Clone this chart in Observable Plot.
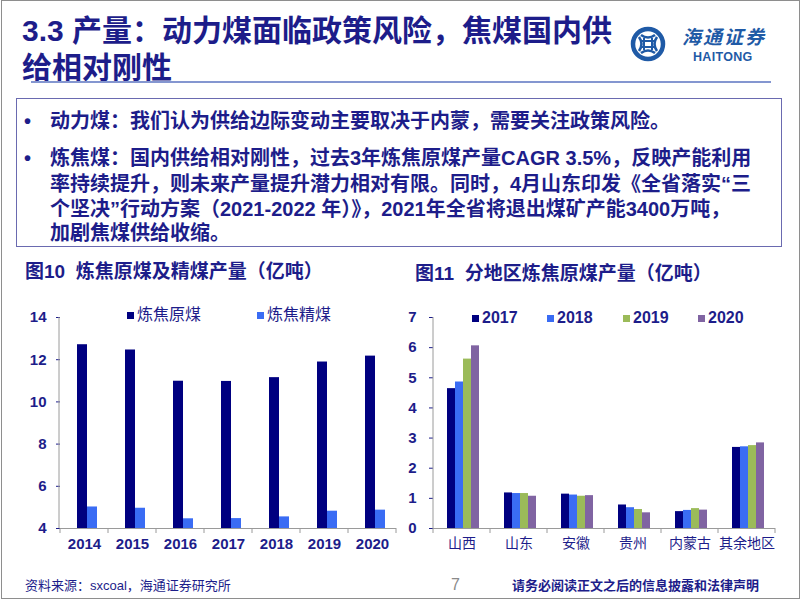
<!DOCTYPE html>
<html><head><meta charset="utf-8">
<script src="https://cdn.jsdelivr.net/npm/d3@7"></script>
<script src="https://cdn.jsdelivr.net/npm/@observablehq/plot@0.6"></script>
<style>
html,body{margin:0;padding:0}
body{width:802px;height:602px;background:#fff;position:relative;overflow:hidden;font-family:"Liberation Sans","Noto Sans CJK SC",sans-serif;color:#1d1d8a}
.abs{position:absolute;white-space:nowrap}
.frame{position:absolute;left:1px;top:0px;width:797px;height:597px;border:1.5px solid #8e8e8e}
.title{left:22px;font-size:30px;font-weight:bold;line-height:30px;color:#1d1d8a}
.uline{position:absolute;left:31px;top:81px;width:740px;height:2px;background:#8496d0}
.box{position:absolute;left:16px;top:98px;width:764px;height:147px;border:1.5px solid #6a6ab0}
.txt{font-size:20px;font-weight:bold;line-height:20px;color:#1d1d8a}
.ctitle{font-size:19px;font-weight:bold;line-height:19px;color:#1d1d8a}
.leg{font-size:16px;line-height:16px;color:#1d1d8a;display:flex;align-items:center}
.leg i{display:inline-block;width:7px;height:7px;margin-right:3px}
.legr{font-size:16px;font-weight:bold}
.foot{font-size:13px;line-height:13px}
.chart{position:absolute}
g[aria-label="y-axis tick"]{stroke:#9a9a9a}
g[aria-label="y-axis"] line{stroke:#9a9a9a}
#right g[aria-label^="fx-axis"] text{font-size:14px;font-weight:normal}
</style></head><body>
<div class="frame"></div>
<div class="abs title" style="top:16px">3.3 产量：动力煤面临政策风险，焦煤国内供</div>
<div class="abs title" style="top:53px">给相对刚性</div>
<div class="uline"></div>
<svg class="abs" style="left:630px;top:26px" width="40" height="38" viewBox="0 0 40 38">
  <circle cx="18" cy="18" r="15" fill="none" stroke="#1f5aa6" stroke-width="4.5"/>
  <path d="M11 9 Q18 14 25 9 M11 27 Q18 22 25 27 M9 11 Q14 18 9 25 M27 11 Q22 18 27 25" fill="none" stroke="#1f5aa6" stroke-width="2.6"/>
  <path d="M14 12 L14 24 M22 12 L22 24 M12 15 L24 15 M12 21 L24 21" fill="none" stroke="#1f5aa6" stroke-width="2"/>
</svg>
<div class="abs" style="left:682px;top:28px;font-size:19px;line-height:20px;font-style:italic;font-weight:bold;color:#1f5aa6;letter-spacing:2px">海通证券</div>
<div class="abs" style="left:693px;top:51px;font-size:12.5px;line-height:13px;font-weight:bold;color:#1f5aa6;letter-spacing:0.3px">HAITONG</div>

<div class="box"></div>
<div class="abs txt" style="left:24px;top:111px">•</div>
<div class="abs txt" style="left:50px;top:111px">动力煤：我们认为供给边际变动主要取决于内蒙，需要关注政策风险。</div>
<div class="abs txt" style="left:24px;top:148px">•</div>
<div class="abs txt" style="left:50px;top:148px">炼焦煤：国内供给相对刚性，过去3年炼焦原煤产量CAGR 3.5%，反映产能利用</div>
<div class="abs txt" style="left:50px;top:174px">率持续提升，则未来产量提升潜力相对有限。同时，4月山东印发《全省落实“三</div>
<div class="abs txt" style="left:50px;top:199px">个坚决”行动方案（2021-2022 年）》，2021年全省将退出煤矿产能3400万吨，</div>
<div class="abs txt" style="left:50px;top:223px">加剧焦煤供给收缩。</div>

<div class="abs ctitle" style="left:25px;top:262px">图10&nbsp; 炼焦原煤及精煤产量（亿吨）</div>
<div class="abs ctitle" style="left:415px;top:264px">图11&nbsp; 分地区炼焦原煤产量（亿吨）</div>

<div id="left" class="chart" style="left:0px;top:290px"></div>
<div id="right" class="chart" style="left:400px;top:290px"></div>

<div id="legL"></div>
<div id="legR"></div>

<div class="abs foot" style="left:25px;top:579px">资料来源：sxcoal，海通证券研究所</div>
<div class="abs" style="left:451px;top:576px;font-size:16px;color:#8a8a8a">7</div>
<div class="abs foot" style="left:512px;top:579px;font-weight:bold">请务必阅读正文之后的信息披露和法律声明</div>

<script>
// ---- Data: Figure 10 ----
const years = ["2014","2015","2016","2017","2018","2019","2020"];
const leftSeries = ["炼焦原煤","炼焦精煤"];
const rawCoal = [12.71, 12.46, 10.98, 10.97, 11.15, 11.89, 12.17];
const cleanCoal = [5.02, 4.96, 4.46, 4.47, 4.55, 4.82, 4.87];
const leftTicks = [4, 6, 8, 10, 12, 14];
const leftColors = ["#000080", "#3a6cf4"];

// ---- Data: Figure 11 ----
const regions = ["山西","山东","安徽","贵州","内蒙古","其余地区"];
const regionYears = ["2017","2018","2019","2020"];
const v2017 = [4.64, 1.18, 1.14, 0.78, 0.56, 2.69];
const v2018 = [4.86, 1.16, 1.11, 0.69, 0.60, 2.71];
const v2019 = [5.62, 1.16, 1.07, 0.63, 0.66, 2.75];
const v2020 = [6.06, 1.07, 1.09, 0.52, 0.61, 2.84];
const rightTicks = [0, 1, 2, 3, 4, 5, 6, 7];
const rightColors = ["#000080", "#3a6cf4", "#9bbb59", "#8064a2"];

const navy = "#1d1d8a";
const axisGray = "#9a9a9a";

const leftData = [];
years.forEach((y, i) => {
  leftData.push({year: y, series: leftSeries[0], value: rawCoal[i]});
  leftData.push({year: y, series: leftSeries[1], value: cleanCoal[i]});
});
const rightVals = [v2017, v2018, v2019, v2020];
const rightData = [];
regions.forEach((r, i) => {
  regionYears.forEach((yr, j) => rightData.push({region: r, yr, value: rightVals[j][i]}));
});

function decorate(chart) {
  const fx = chart.scale("fx"), y = chart.scale("y");
  const svg = d3.select(chart.tagName === "svg" ? chart : chart.querySelector("svg"));
  const x0 = fx.range[0];
  svg.append("line").attr("x1", x0).attr("x2", x0)
    .attr("y1", y.range[0]).attr("y2", y.range[1]).attr("stroke", axisGray);
  const edges = fx.domain.map(d => fx.apply(d));
  edges.push(fx.apply(fx.domain[fx.domain.length - 1]) + fx.bandwidth);
  edges.forEach(e => svg.append("line").attr("x1", e).attr("x2", e)
    .attr("y1", y.range[0]).attr("y2", y.range[0] + 5).attr("stroke", axisGray));
}

const fontStack = '"Liberation Sans","Noto Sans CJK SC",sans-serif';
const leftMin = leftTicks[0];
const left = Plot.plot({
  width: 400, height: 265,
  marginLeft: 59, marginRight: 3, marginTop: 27, marginBottom: 27,
  style: {fontFamily: fontStack, fontSize: "15px", fontWeight: "bold", color: navy, background: "transparent", overflow: "visible"},
  fx: {domain: years, padding: 0, label: null, tickSize: 0, tickPadding: 10, axis: "bottom"},
  x: {domain: leftSeries, paddingInner: 0, paddingOuter: 1.28, align: 0.6, axis: null},
  y: {domain: [leftTicks[0], leftTicks[leftTicks.length - 1]], ticks: leftTicks, tickSize: 4, tickPadding: 10, tickFormat: d3.format("d"), label: null},
  color: {domain: leftSeries, range: leftColors},
  marks: [
    Plot.barY(leftData, {fx: "year", x: "series", y1: leftMin, y2: "value", fill: "series"}),
    Plot.ruleY([leftMin], {stroke: axisGray})
  ]
});
document.getElementById("left").appendChild(left);
decorate(left);

const right = Plot.plot({
  width: 400, height: 265,
  marginLeft: 33, marginRight: 25, marginTop: 27, marginBottom: 27,
  style: {fontFamily: fontStack, fontSize: "15px", fontWeight: "bold", color: navy, background: "transparent", overflow: "visible"},
  fx: {domain: regions, padding: 0, label: null, tickSize: 0, tickPadding: 10, axis: "bottom"},
  x: {domain: regionYears, paddingInner: 0, paddingOuter: 1.35, align: 0.55, axis: null},
  y: {domain: [rightTicks[0], rightTicks[rightTicks.length - 1]], ticks: rightTicks, tickSize: 4, tickPadding: 13, tickFormat: d3.format("d"), label: null},
  color: {domain: regionYears, range: rightColors},
  marks: [
    Plot.barY(rightData, {fx: "region", x: "yr", y: "value", fill: "yr"}),
    Plot.ruleY([rightTicks[0]], {stroke: axisGray})
  ]
});
document.getElementById("right").appendChild(right);
decorate(right);

// Legends (HTML)
const legLPos = [127, 257];
leftSeries.forEach((s, i) => {
  const d = document.createElement("div");
  d.className = "abs leg";
  d.style.left = legLPos[i] + "px"; d.style.top = "307px";
  d.innerHTML = `<i style="background:${leftColors[i]}"></i>${s}`;
  document.getElementById("legL").appendChild(d);
});
const legRPos = [472, 547, 623, 698];
regionYears.forEach((s, i) => {
  const d = document.createElement("div");
  d.className = "abs leg legr";
  d.style.left = legRPos[i] + "px"; d.style.top = "310px";
  d.innerHTML = `<i style="background:${rightColors[i]}"></i>${s}`;
  document.getElementById("legR").appendChild(d);
});
</script>
</body></html>
